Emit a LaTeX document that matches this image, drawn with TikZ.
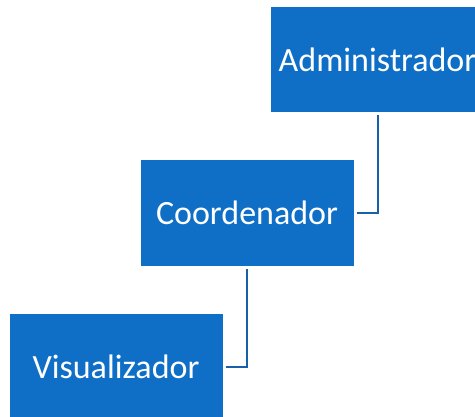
\documentclass[tikz,border=0pt]{standalone}
\usepackage{fontspec}
\setmainfont{Carlito}
\usepackage{tikz}
\definecolor{boxblue}{HTML}{0F6FC6}
\definecolor{lineblue}{HTML}{1660AC}

\begin{document}
\begin{tikzpicture}[x=1pt,y=-1pt,
    role/.style={shape=rectangle,fill=boxblue,text=white,
      minimum width=213pt,minimum height=105.5pt,
      inner sep=0pt,outer sep=3pt,font=\fontsize{34}{40}\selectfont},
    link/.style={draw=lineblue,line width=2pt}]

    \useasboundingbox (0,0) rectangle (475,416);

    \node[role] (adm) at (377.5,59.5) {Administrador};
    \node[role] (coo) at (247,213) {Coordenador};
    \node[role] (vis) at (116,366.5) {Visualizador};

    \draw[link] (adm.south) |- (coo.east);
    \draw[link] (coo.south) |- (vis.east);
\end{tikzpicture}
\end{document}
